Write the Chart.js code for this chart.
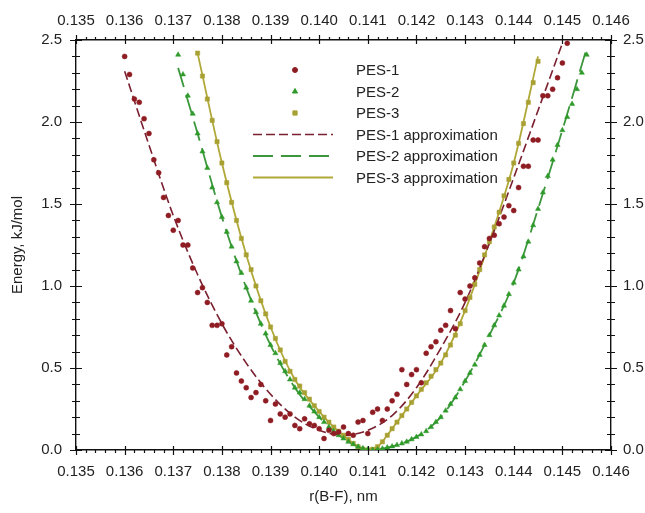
<!DOCTYPE html>
<html>
<head>
<meta charset="utf-8">
<script src="https://cdn.jsdelivr.net/npm/chart.js@4.4.0/dist/chart.umd.min.js"></script>
<style>
  body { margin: 0; background: #fff; }
  #wrap { width: 645px; height: 513px; position: relative; }
</style>
</head>
<body>
<div id="wrap"><canvas id="myChart"></canvas></div>
<script>
// PES-1 points (r in nm, energy in kJ/mol)
const pes1X = [0.1360,0.1361,0.1362,0.1363,0.1364,0.1365,0.1366,0.1367,0.1368,0.1369,
  0.1370,0.1371,0.1372,0.1373,0.1374,0.1375,0.1376,0.1377,0.1378,0.1379,
  0.1380,0.1381,0.1382,0.1383,0.1384,0.1385,0.1386,0.1387,0.1388,0.1389,
  0.1390,0.1391,0.1392,0.1393,0.1394,0.1395,0.1396,0.1397,0.1398,0.1399,
  0.1400,0.1401,0.1402,0.1403,0.1404,0.1405,0.1406,0.1407,0.1408,0.1409,
  0.1410,0.1411,0.1412,0.1413,0.1414,0.1415,0.1416,0.1417,0.1418,0.1419,
  0.1420,0.1421,0.1422,0.1423,0.1424,0.1425,0.1426,0.1427,0.1428,0.1429,
  0.1430,0.1431,0.1432,0.1433,0.1434,0.1435,0.1436,0.1437,0.1438,0.1439,
  0.1440,0.1441,0.1442,0.1443,0.1444,0.1445,0.1446,0.1447,0.1448,0.1449,
  0.1450,0.1451];
const pes1Y = [2.40,2.29,2.14,2.12,2.02,1.93,1.77,1.69,1.54,1.43,
  1.34,1.40,1.25,1.25,1.11,0.96,0.99,0.90,0.76,0.76,
  0.77,0.58,0.63,0.47,0.42,0.38,0.32,0.35,0.40,0.30,
  0.18,0.28,0.22,0.20,0.22,0.15,0.13,0.19,0.16,0.15,
  0.13,0.07,0.12,0.10,0.11,0.14,0.10,0.09,0.17,0.18,
  0.10,0.23,0.25,0.18,0.25,0.30,0.34,0.49,0.40,0.46,
  0.49,0.41,0.59,0.63,0.66,0.73,0.76,0.85,0.74,0.96,
  0.92,1.00,1.05,1.14,1.24,1.29,1.31,1.38,1.42,1.49,
  1.46,1.60,1.73,1.73,1.89,1.89,2.16,2.16,2.20,2.27,
  2.36,2.48];

// PES-2 points
const pes2X = [0.1371,0.1372,0.1373,0.1374,0.1375,0.1376,0.1377,0.1378,0.1379,
  0.1380,0.1381,0.1382,0.1383,0.1384,0.1385,0.1386,0.1387,0.1388,0.1389,
  0.1390,0.1391,0.1392,0.1393,0.1394,0.1395,0.1396,0.1397,0.1398,0.1399,
  0.1400,0.1401,0.1402,0.1403,0.1404,0.1405,0.1406,0.1407,0.1408,0.1409,
  0.1410,0.1411,0.1412,0.1413,0.1414,0.1415,0.1416,0.1417,0.1418,0.1419,
  0.1420,0.1421,0.1422,0.1423,0.1424,0.1425,0.1426,0.1427,0.1428,0.1429,
  0.1430,0.1431,0.1432,0.1433,0.1434,0.1435,0.1436,0.1437,0.1438,0.1439,
  0.1440,0.1441,0.1442,0.1443,0.1444,0.1445,0.1446,0.1447,0.1448,0.1449,
  0.1450,0.1451,0.1452,0.1453,0.1454,0.1455];
const pes2Y = [2.41,2.29,2.16,2.05,1.93,1.82,1.72,1.60,1.51,
  1.42,1.33,1.24,1.15,1.08,0.99,0.91,0.84,0.77,0.71,
  0.64,0.59,0.53,0.48,0.43,0.38,0.35,0.31,0.27,0.235,
  0.20,0.17,0.14,0.115,0.09,0.07,0.05,0.035,0.02,0.01,
  0.004,0.0,0.003,0.008,0.015,0.022,0.03,0.04,0.05,0.065,
  0.08,0.095,0.115,0.14,0.17,0.20,0.24,0.28,0.32,0.37,
  0.42,0.47,0.52,0.58,0.64,0.70,0.76,0.82,0.88,0.95,
  1.02,1.10,1.18,1.27,1.37,1.47,1.57,1.67,1.77,1.86,
  1.95,2.03,2.11,2.20,2.30,2.41];

// PES-3 points
const pes3X = [0.1375,0.1376,0.1377,0.1378,0.1379,
  0.1380,0.1381,0.1382,0.1383,0.1384,0.1385,0.1386,0.1387,0.1388,0.1389,
  0.1390,0.1391,0.1392,0.1393,0.1394,0.1395,0.1396,0.1397,0.1398,0.1399,
  0.1400,0.1401,0.1402,0.1403,0.1404,0.1405,0.1406,0.1407,0.1408,0.1409,
  0.1410,0.1411,0.1412,0.1413,0.1414,0.1415,0.1416,0.1417,0.1418,0.1419,
  0.1420,0.1421,0.1422,0.1423,0.1424,0.1425,0.1426,0.1427,0.1428,0.1429,
  0.1430,0.1431,0.1432,0.1433,0.1434,0.1435,0.1436,0.1437,0.1438,0.1439,
  0.1440,0.1441,0.1442,0.1443,0.1444,0.1445];
const pes3Y = [2.42,2.28,2.14,2.01,1.88,
  1.75,1.63,1.51,1.40,1.29,1.19,1.10,1.00,0.91,0.83,
  0.75,0.68,0.61,0.54,0.48,0.43,0.39,0.35,0.31,0.27,
  0.235,0.20,0.17,0.14,0.115,0.09,0.065,0.04,0.02,0.005,
  0.0,0.005,0.02,0.05,0.09,0.13,0.17,0.21,0.25,0.29,
  0.33,0.37,0.41,0.45,0.49,0.53,0.58,0.64,0.70,0.77,
  0.85,0.93,1.01,1.10,1.19,1.27,1.36,1.45,1.55,1.65,
  1.75,1.87,1.99,2.12,2.24,2.37];

// approximation curves
const fit1X = [0.1360,0.1365,0.1370,0.1375,0.1380,0.1385,0.1390,0.1395,0.1400,0.1405,
  0.1410,0.1415,0.1420,0.1425,0.1430,0.1435,0.1440,0.1445,0.1450];
const fit1Y = [2.31,1.86,1.43,1.07,0.77,0.53,0.34,0.20,0.12,0.09,
  0.12,0.21,0.38,0.62,0.90,1.26,1.66,2.07,2.48];
const fit2X = [0.1371,0.1375,0.1380,0.1385,0.1390,0.1395,0.1400,0.1403,0.1406,0.1408,
  0.1411,0.1414,0.1417,0.1420,0.1425,0.1430,0.1435,0.1440,0.1445,0.1450,0.1455];
const fit2Y = [2.33,1.93,1.42,0.99,0.64,0.38,0.20,0.115,0.05,0.02,
  0.0,0.015,0.04,0.08,0.20,0.42,0.70,1.02,1.47,1.95,2.45];
const fit3X = [0.1375,0.1380,0.1385,0.1390,0.1395,0.1400,0.1403,0.1406,0.1408,0.1410,
  0.1412,0.1414,0.1416,0.1420,0.1425,0.1430,0.1435,0.1440,0.1445];
const fit3Y = [2.42,1.75,1.19,0.75,0.43,0.235,0.14,0.065,0.02,0.0,
  0.02,0.09,0.17,0.33,0.53,0.85,1.27,1.75,2.40];

const seriesNames = ['PES-1','PES-2','PES-3','PES-1 approximation','PES-2 approximation','PES-3 approximation'];
const xMin = 0.135, xMax = 0.146;
const yMin = 0.0, yMax = 2.5;

const red = '#8e1c22', redLine = '#7a2030';
const green = '#2f9a2a', greenLine = '#3c963c';
const olive = '#a8a032', oliveLine = '#b0a838';

function pairs(xs, ys) {
  return xs.map((x, i) => ({ x: x, y: ys[i] }));
}

Chart.defaults.font.family = '"Liberation Sans", Arial, sans-serif';
Chart.defaults.font.size = 15;
Chart.defaults.color = '#222';

// tick marks on all four sides of the frame
const frameTicks = {
  id: 'frameTicks',
  afterDraw(chart) {
    const ctx = chart.ctx, a = chart.chartArea, sx = chart.scales.x, sy = chart.scales.y;
    ctx.save();
    ctx.strokeStyle = '#111';
    ctx.lineWidth = 1.2;
    ctx.beginPath();
    for (let i = 0; i <= 55; i++) {
      const px = Math.round(sx.getPixelForValue(xMin + i * 0.0002)) + 0.5;
      const major = i % 5 === 0;
      ctx.moveTo(px, a.bottom - (major ? 4 : 0));
      ctx.lineTo(px, a.bottom + (major ? 5 : 3));
      ctx.moveTo(px, a.top + (major ? 4 : 0));
      ctx.lineTo(px, a.top - (major ? 5 : 3));
    }
    for (let j = 0; j <= 25; j++) {
      const py = Math.round(sy.getPixelForValue(yMin + j * 0.1)) + 0.5;
      const major = j % 5 === 0;
      const len = major ? 6 : 4;
      ctx.moveTo(a.left - len, py);
      ctx.lineTo(a.left + len, py);
      ctx.moveTo(a.right - len, py);
      ctx.lineTo(a.right + len, py);
    }
    ctx.stroke();
    ctx.restore();
  }
};

// legend drawn inside the plot like the original
const innerLegend = {
  id: 'innerLegend',
  afterDraw(chart) {
    const ctx = chart.ctx;
    ctx.save();
    ctx.font = '15px "Liberation Sans", Arial, sans-serif';
    ctx.textBaseline = 'middle';
    chart.data.datasets.forEach((ds, i) => {
      const y = 70 + i * 21.5;
      if (ds.showLine) {
        ctx.strokeStyle = ds.borderColor;
        ctx.lineWidth = ds.borderWidth;
        ctx.setLineDash(ds.borderDash || []);
        ctx.beginPath();
        ctx.moveTo(253, y);
        ctx.lineTo(333, y);
        ctx.stroke();
        ctx.setLineDash([]);
      } else {
        ctx.fillStyle = ds.backgroundColor;
        ctx.strokeStyle = ds.borderColor;
        Chart.helpers.drawPoint(ctx, { pointStyle: ds.pointStyle, radius: ds.pointRadius, borderWidth: 0.5, rotation: 0 }, 295, y);
      }
      ctx.fillStyle = '#222';
      ctx.fillText(ds.label, 356, y + 1);
    });
    ctx.restore();
  }
};

const ctx = document.getElementById('myChart');
new Chart(ctx, {
  type: 'scatter',
  data: {
    datasets: [
      { label: seriesNames[0], data: pairs(pes1X, pes1Y), showLine: false, pointStyle: 'circle', pointRadius: 2.5,
        backgroundColor: red, borderColor: red, borderWidth: 0.5 },
      { label: seriesNames[1], data: pairs(pes2X, pes2Y), showLine: false, pointStyle: 'triangle', pointRadius: 3,
        backgroundColor: green, borderColor: green, borderWidth: 0.5 },
      { label: seriesNames[2], data: pairs(pes3X, pes3Y), showLine: false, pointStyle: 'rect', pointRadius: 3,
        backgroundColor: olive, borderColor: olive, borderWidth: 0.5 },
      { label: seriesNames[3], data: pairs(fit1X, fit1Y), showLine: true, pointRadius: 0, borderColor: redLine,
        borderWidth: 1.6, borderDash: [9, 4], cubicInterpolationMode: 'monotone', fill: false },
      { label: seriesNames[4], data: pairs(fit2X, fit2Y), showLine: true, pointRadius: 0, borderColor: greenLine,
        borderWidth: 1.8, borderDash: [20, 8], cubicInterpolationMode: 'monotone', fill: false },
      { label: seriesNames[5], data: pairs(fit3X, fit3Y), showLine: true, pointRadius: 0, borderColor: oliveLine,
        borderWidth: 1.8, cubicInterpolationMode: 'monotone', fill: false }
    ]
  },
  options: {
    responsive: true,
    maintainAspectRatio: false,
    animation: false,
    layout: { padding: 0 },
    plugins: { legend: { display: false }, tooltip: { enabled: false } },
    scales: {
      x: {
        type: 'linear', position: 'bottom', min: xMin, max: xMax,
        grid: { display: false, drawTicks: false },
        border: { display: true, color: '#111', width: 1.4 },
        ticks: { stepSize: 0.001, padding: 13, maxRotation: 0, callback: v => v.toFixed(3) },
        title: { display: true, text: 'r(B-F), nm', padding: { top: 0, bottom: 7 } },
        afterFit: s => { s.height = 63; }
      },
      x2: {
        type: 'linear', position: 'top', min: xMin, max: xMax,
        grid: { display: false, drawTicks: false },
        border: { display: true, color: '#111', width: 1.4 },
        ticks: { stepSize: 0.001, padding: 10, maxRotation: 0, callback: v => v.toFixed(3) },
        afterFit: s => { s.height = 40; }
      },
      y: {
        type: 'linear', position: 'left', min: yMin, max: yMax,
        grid: { display: false, drawTicks: false },
        border: { display: true, color: '#111', width: 1.4 },
        ticks: { stepSize: 0.5, padding: 14, callback: v => v.toFixed(1) },
        title: { display: true, text: 'Energy, kJ/mol', padding: { top: 9, bottom: 0 } },
        afterFit: s => { s.width = 76; }
      },
      y2: {
        type: 'linear', position: 'right', min: yMin, max: yMax,
        grid: { display: false, drawTicks: false },
        border: { display: true, color: '#111', width: 1.4 },
        ticks: { stepSize: 0.5, padding: 12, callback: v => v.toFixed(1) },
        afterFit: s => { s.width = 34; }
      }
    }
  },
  plugins: [frameTicks, innerLegend]
});
</script>
</body>
</html>
